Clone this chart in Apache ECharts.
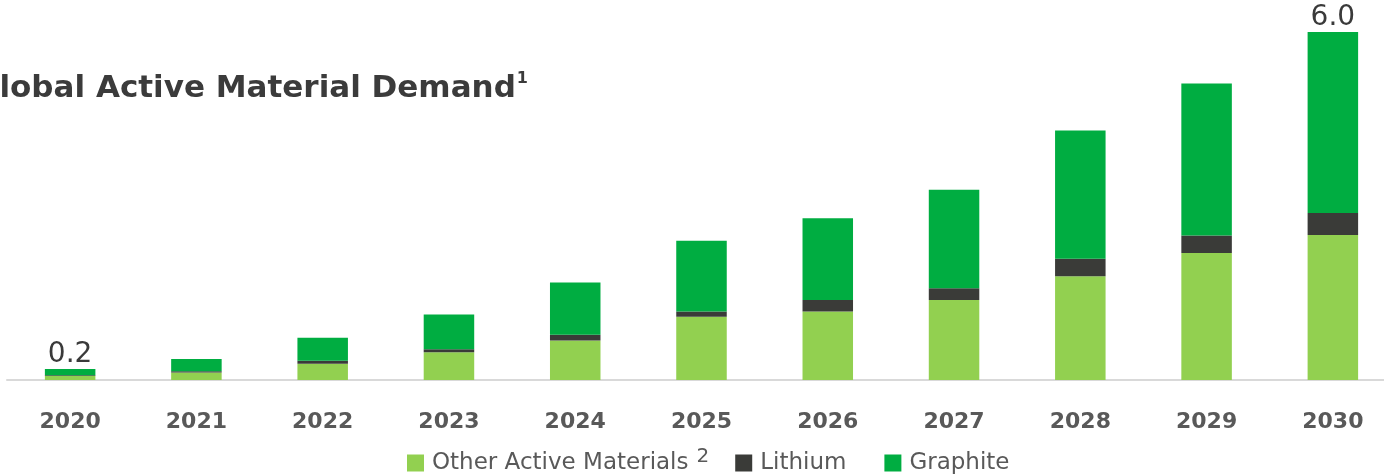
<!DOCTYPE html>
<html>
<head>
<meta charset="utf-8">
<script src="https://cdn.jsdelivr.net/npm/echarts@6/dist/echarts.min.js"></script>
<style>
html,body{margin:0;padding:0;background:#fff;}
#chart{width:1384px;height:476px;}
</style>
</head>
<body>
<div id="chart"></div>
<script>
const categories = ['2020','2021','2022','2023','2024','2025','2026','2027','2028','2029','2030'];
const otherActive = [0.07, 0.13, 0.28, 0.48, 0.68, 1.09, 1.18, 1.38, 1.79, 2.19, 2.50];
const lithium     = [0.01, 0.02, 0.05, 0.05, 0.10, 0.09, 0.20, 0.20, 0.30, 0.30, 0.38];
const graphite    = [0.11, 0.21, 0.40, 0.60, 0.90, 1.22, 1.41, 1.70, 2.21, 2.62, 3.12];
const labelledYears = ['2020', '2030'];

const totals = categories.map((c, i) => otherActive[i] + lithium[i] + graphite[i]);

const chart = echarts.init(document.getElementById('chart'));
chart.setOption({
  animation: false,
  title: {
    text: '{t|Global Active Material Demand}{s|1}',
    left: -26,
    top: 71,
    padding: 0,
    textStyle: {
      rich: {
        t: { fontFamily: 'DejaVu Sans', fontWeight: 'bold', fontSize: 31, color: '#3b3b3b', lineHeight: 36 },
        s: { fontFamily: 'DejaVu Sans', fontWeight: 'bold', fontSize: 16, color: '#3b3b3b', verticalAlign: 'top', lineHeight: 24, padding: [0, 0, 0, 1] }
      }
    }
  },
  legend: {
    left: 407,
    top: 447,
    padding: 0,
    itemWidth: 17,
    itemHeight: 17,
    itemGap: 26,
    icon: 'rect',
    data: ['Other Active Materials', 'Lithium', 'Graphite'],
    formatter: function (name) {
      if (name === 'Other Active Materials') return '{n|' + name + '}{s|2}';
      if (name === 'Lithium') return '{m|' + name + '}';
      return '{n|' + name + '}';
    },
    textStyle: {
      rich: {
        n: { fontFamily: 'DejaVu Sans', fontSize: 23, color: '#595959', lineHeight: 32, padding: [0, 0, 0, 3] },
        m: { fontFamily: 'DejaVu Sans', fontSize: 23, color: '#595959', lineHeight: 32, padding: [0, 12, 0, 3] },
        s: { fontFamily: 'DejaVu Sans', fontSize: 20, color: '#595959', verticalAlign: 'top', lineHeight: 19, padding: [0, 0, 0, 8] }
      }
    }
  },
  grid: { left: 7, width: 1389, top: 32, bottom: 96, containLabel: false, outerBoundsMode: 'none' },
  xAxis: {
    type: 'category',
    data: categories,
    axisLine: { lineStyle: { color: '#d9d9d9', width: 2 } },
    axisTick: { show: false },
    axisLabel: { fontFamily: 'DejaVu Sans', fontWeight: 'bold', fontSize: 22, color: '#595959', margin: 31 }
  },
  yAxis: {
    type: 'value',
    min: 0,
    max: 6,
    show: false,
    splitLine: { show: false }
  },
  series: [
    {
      name: 'Other Active Materials',
      type: 'bar',
      stack: 'total',
      barWidth: '40%',
      itemStyle: { color: '#92d050' },
      data: otherActive
    },
    {
      name: 'Lithium',
      type: 'bar',
      stack: 'total',
      itemStyle: { color: '#3a3b38' },
      data: lithium
    },
    {
      name: 'Graphite',
      type: 'bar',
      stack: 'total',
      itemStyle: { color: '#00ad41' },
      data: graphite.map((v, i) => ({
        value: v,
        label: {
          show: labelledYears.indexOf(categories[i]) >= 0,
          position: 'top',
          distance: 0,
          formatter: totals[i].toFixed(1),
          fontFamily: 'DejaVu Sans',
          fontSize: 28,
          color: '#3a3a3a'
        }
      }))
    }
  ]
});
</script>
</body>
</html>
